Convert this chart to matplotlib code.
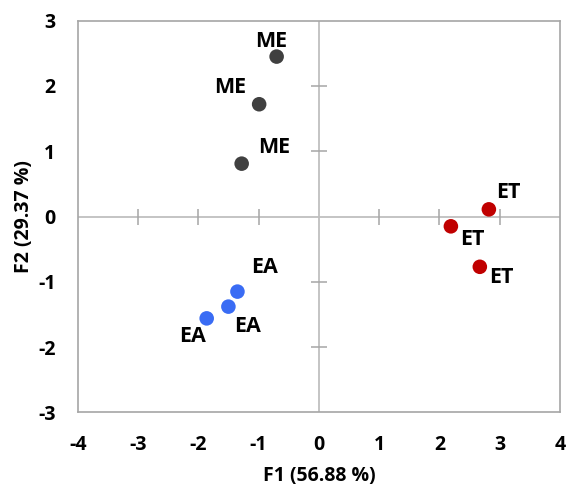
import matplotlib
matplotlib.use("Agg")
import matplotlib.pyplot as plt

plt.rcParams['font.family'] = ['Open Sans', 'DejaVu Sans']
plt.rcParams['axes.unicode_minus'] = False

groups = ["ME", "ME", "ME", "ET", "ET", "ET", "EA", "EA", "EA"]
f1 = [-0.70, -0.99, -1.28, 2.82, 2.19, 2.67, -1.35, -1.50, -1.86]
f2 = [2.45, 1.72, 0.81, 0.11, -0.15, -0.77, -1.15, -1.38, -1.56]
label_offsets = [(-5, 15), (-29, 17), (33, 16), (19, 17), (21, -13), (21, -11),
                 (27, 24), (19, -20), (-14, -18)]
colors = {"ME": "#404040", "ET": "#C00000", "EA": "#3A6CF4"}

xticks = [-4, -3, -2, -1, 0, 1, 2, 3, 4]
yticks = [-3, -2, -1, 0, 1, 2, 3]

fig = plt.figure(figsize=(5.69, 4.90), dpi=100)
ax = fig.add_axes([0.1365, 0.1584, 0.8477, 0.7994])
ax.set_xlim(-4, 4)
ax.set_ylim(-3, 3)

ax.axhline(0, color="#BFBFBF", lw=1.3, zorder=1)
ax.axvline(0, color="#BFBFBF", lw=1.3, zorder=1)
inner_x = [t for t in xticks if t not in (-4, 0, 4)]
inner_y = [t for t in yticks if t not in (-3, 0, 3)]
ax.plot(inner_x, [0] * len(inner_x), ls="none", marker="|", ms=11.5, mew=1.1,
        color="#A6A6A6", zorder=1)
ax.plot([0] * len(inner_y), inner_y, ls="none", marker="_", ms=11.5, mew=1.1,
        color="#A6A6A6", zorder=1)

for g, x, y, off in zip(groups, f1, f2, label_offsets):
    ax.scatter([x], [y], s=110, color=colors[g], zorder=3, edgecolors="none")
    ax.annotate(g, (x, y), xytext=off, textcoords="offset pixels",
                ha="center", va="center", fontsize=15.5, fontweight="bold",
                color="black", zorder=4)

ax.set_xticks(xticks)
ax.set_yticks(yticks)
ax.tick_params(length=0, labelsize=14)
ax.tick_params(axis="x", pad=16)
ax.tick_params(axis="y", pad=16)
for lab in ax.get_xticklabels() + ax.get_yticklabels():
    lab.set_fontweight("bold")
for s in ax.spines.values():
    s.set_color("#A6A6A6")
    s.set_linewidth(1.2)

ax.set_xlabel("F1 (56.88 %)", fontsize=14, fontweight="bold", labelpad=8)
ax.set_ylabel("F2 (29.37 %)", fontsize=14, fontweight="bold", labelpad=3)

fig.savefig("out.png", dpi=100)
